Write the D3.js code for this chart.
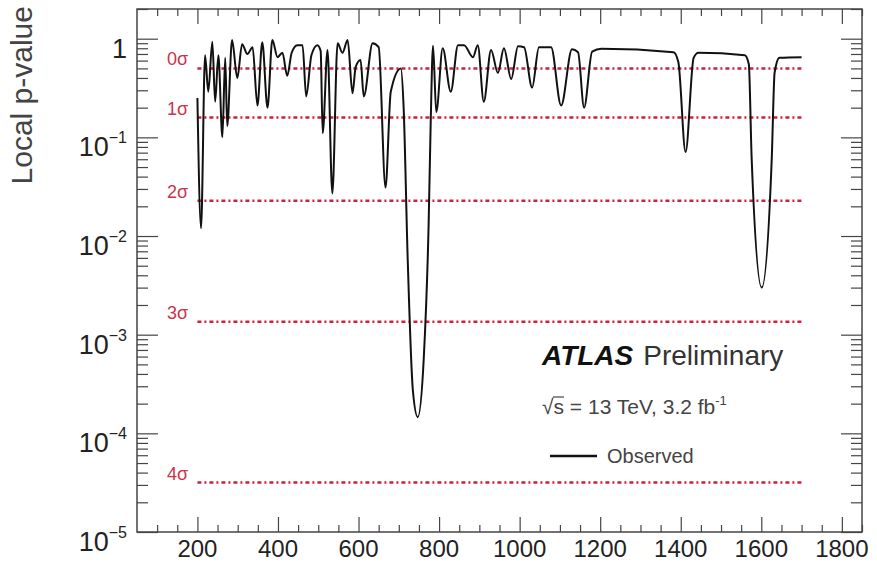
<!DOCTYPE html>
<html>
<head>
<meta charset="utf-8">
<script src="https://cdn.jsdelivr.net/npm/d3@7"></script>
<style>
  body { margin: 0; background: #fff; }
  svg { font-family: "Liberation Sans", Arial, sans-serif; }
</style>
</head>
<body>
<svg id="chart"></svg>
<script>
// observed local p-value vs mass (GeV)
const massGeV = [200, 209, 219, 227, 237, 244, 252, 262, 269, 274, 286, 299, 311, 324, 337, 349,
  361, 374, 386, 399, 411, 423, 434, 448, 461, 470, 483, 498, 506, 511, 523, 535, 548, 560, 573,
  585, 593, 605, 613, 635, 650, 667, 680, 705, 712, 722, 735, 747, 762, 774, 779, 785, 793, 809,
  829, 847, 862, 884, 896, 911, 929, 946, 961, 979, 996, 1011, 1031, 1048, 1078, 1103, 1130, 1145,
  1160, 1180, 1203, 1382, 1394, 1412, 1432, 1444, 1559, 1569, 1576, 1601, 1626, 1633, 1645, 1700];
const pLocal = [0.25, 0.012, 0.68, 0.29, 0.93, 0.23, 0.68, 0.10, 0.64, 0.13, 0.97, 0.40, 0.88, 0.70,
  0.82, 0.21, 0.92, 0.20, 0.97, 0.65, 0.72, 0.42, 0.72, 0.86, 0.86, 0.26, 0.68, 0.86, 0.75, 0.11,
  0.77, 0.027, 0.90, 0.72, 0.97, 0.28, 0.52, 0.61, 0.26, 0.90, 0.82, 0.031, 0.29, 0.50, 0.20, 0.006,
  0.00027, 0.000146, 0.00058, 0.013, 0.13, 0.85, 0.18, 0.80, 0.29, 0.86, 0.86, 0.65, 0.86, 0.23,
  0.77, 0.45, 0.80, 0.39, 0.84, 0.82, 0.32, 0.82, 0.82, 0.21, 0.78, 0.73, 0.20, 0.74, 0.79, 0.73,
  0.58, 0.071, 0.64, 0.72, 0.68, 0.55, 0.062, 0.003, 0.062, 0.45, 0.64, 0.65];

// significance reference lines
const sigmaLabels = ["0σ", "1σ", "2σ", "3σ", "4σ"];
const sigmaP = [0.5, 0.1587, 0.02275, 0.00135, 3.17e-5];
const sigmaRange = [200, 1700];

const xTickValues = [200, 400, 600, 800, 1000, 1200, 1400, 1600, 1800];
const yDecades = [1e-5, 1e-4, 1e-3, 1e-2, 1e-1, 1];
const yExponents = [-5, -4, -3, -2, -1, 0];

const width = 877, height = 563;
const frame = { left: 137, right: 862, top: 9, bottom: 532 };

const svg = d3.select("#chart")
    .attr("width", width)
    .attr("height", height);

const x = d3.scaleLinear().domain([50, 1850]).range([frame.left, frame.right]);
const y = d3.scaleLog().domain([1e-5, 2]).range([frame.bottom, frame.top]);

// minor ticks
const xMinor = d3.range(100, 1851, 50).filter(v => v % 200 !== 0);
const yMinor = [];
yDecades.slice(0, 5).forEach(d => { for (let k = 2; k <= 9; k++) yMinor.push(d * k); });
yMinor.push(2);

const axisColor = "#444";

function drawAxis(axis, tx, ty) {
    const g = svg.append("g").attr("transform", `translate(${tx},${ty})`).call(axis);
    g.select(".domain").remove();
    g.selectAll("line").attr("stroke", axisColor).attr("stroke-width", 1.2);
    g.selectAll("text").remove();
}

drawAxis(d3.axisBottom(x).tickValues(xTickValues).tickSize(-15).tickFormat(""), 0, frame.bottom);
drawAxis(d3.axisBottom(x).tickValues(xMinor).tickSize(-7).tickFormat(""), 0, frame.bottom);
drawAxis(d3.axisTop(x).tickValues(xTickValues).tickSize(-15).tickFormat(""), 0, frame.top);
drawAxis(d3.axisTop(x).tickValues(xMinor).tickSize(-7).tickFormat(""), 0, frame.top);
drawAxis(d3.axisLeft(y).tickValues(yDecades).tickSize(-21).tickFormat(""), frame.left, 0);
drawAxis(d3.axisLeft(y).tickValues(yMinor).tickSize(-11).tickFormat(""), frame.left, 0);
drawAxis(d3.axisRight(y).tickValues(yDecades).tickSize(-21).tickFormat(""), frame.right, 0);
drawAxis(d3.axisRight(y).tickValues(yMinor).tickSize(-11).tickFormat(""), frame.right, 0);

// frame
svg.append("rect")
    .attr("x", frame.left).attr("y", frame.top)
    .attr("width", frame.right - frame.left).attr("height", frame.bottom - frame.top)
    .attr("fill", "none")
    .attr("stroke", axisColor)
    .attr("stroke-width", 1.5);

// x tick labels
svg.selectAll(".xlab")
    .data(xTickValues)
    .enter()
    .append("text")
    .attr("class", "xlab")
    .attr("x", d => x(d))
    .attr("y", frame.bottom + 25)
    .attr("text-anchor", "middle")
    .attr("font-size", 24)
    .attr("fill", "#222")
    .text(d => d);

// y tick labels (10^n)
const ylab = svg.selectAll(".ylab")
    .data(yDecades)
    .enter()
    .append("text")
    .attr("class", "ylab")
    .attr("x", 127)
    .attr("y", d => y(d) + 19)
    .attr("text-anchor", "end")
    .attr("font-size", 27)
    .attr("fill", "#222");
ylab.each(function(d, i) {
    const t = d3.select(this);
    if (yExponents[i] === 0) {
        t.text("1");
    } else {
        t.append("tspan").text("10");
        t.append("tspan").attr("dy", -13).attr("font-size", 16).text("\u2212" + (-yExponents[i]));
    }
});

// axis title
svg.append("text")
    .attr("transform", "translate(32,6) rotate(-90)")
    .attr("text-anchor", "end")
    .attr("font-size", 30)
    .attr("fill", "#444")
    .text("Local p-value");

// sigma lines
const sigmaColor = "#d21f3c";
svg.selectAll(".sigma")
    .data(sigmaP)
    .enter()
    .append("line")
    .attr("class", "sigma")
    .attr("x1", x(sigmaRange[0]))
    .attr("x2", x(sigmaRange[1]))
    .attr("y1", d => y(d))
    .attr("y2", d => y(d))
    .attr("stroke", sigmaColor)
    .attr("stroke-width", 2.5)
    .attr("stroke-dasharray", "4,3,2,3");

svg.selectAll(".sigmaLabel")
    .data(sigmaP)
    .enter()
    .append("text")
    .attr("class", "sigmaLabel")
    .attr("x", 167)
    .attr("y", d => y(d) - 3)
    .attr("font-size", 18)
    .attr("fill", "#c8344a")
    .text((d, i) => sigmaLabels[i]);

// observed curve
svg.append("clipPath").attr("id", "plotArea")
    .append("rect")
    .attr("x", frame.left).attr("y", frame.top)
    .attr("width", frame.right - frame.left).attr("height", frame.bottom - frame.top);

const line = d3.line()
    .x(i => x(massGeV[i]))
    .y(i => y(pLocal[i]))
    .curve(d3.curveMonotoneX);

svg.append("path")
    .datum(d3.range(massGeV.length))
    .attr("clip-path", "url(#plotArea)")
    .attr("d", line)
    .attr("fill", "none")
    .attr("stroke", "#111")
    .attr("stroke-width", 2);

// ATLAS label
const atlas = svg.append("text")
    .attr("x", 542)
    .attr("y", 365)
    .attr("font-size", 28)
    .attr("fill", "#111");
atlas.append("tspan").attr("font-weight", "bold").attr("font-style", "italic").text("ATLAS");
atlas.append("tspan").attr("dx", 10).attr("fill", "#333").text("Preliminary");

const energy = svg.append("text")
    .attr("x", 542)
    .attr("y", 414)
    .attr("font-size", 21)
    .attr("fill", "#444");
energy.append("tspan").text("\u221As = 13 TeV, 3.2 fb");
energy.append("tspan").attr("dy", -9).attr("font-size", 13).text("-1");
// overbar of the square root
svg.append("line")
    .attr("x1", 553).attr("x2", 564)
    .attr("y1", 397).attr("y2", 397)
    .attr("stroke", "#444")
    .attr("stroke-width", 1.2);

// legend
svg.append("line")
    .attr("x1", 550).attr("x2", 597)
    .attr("y1", 456).attr("y2", 456)
    .attr("stroke", "#111")
    .attr("stroke-width", 2.5);

svg.append("text")
    .attr("x", 607)
    .attr("y", 463)
    .attr("font-size", 20)
    .attr("fill", "#444")
    .text("Observed");
</script>
</body>
</html>
